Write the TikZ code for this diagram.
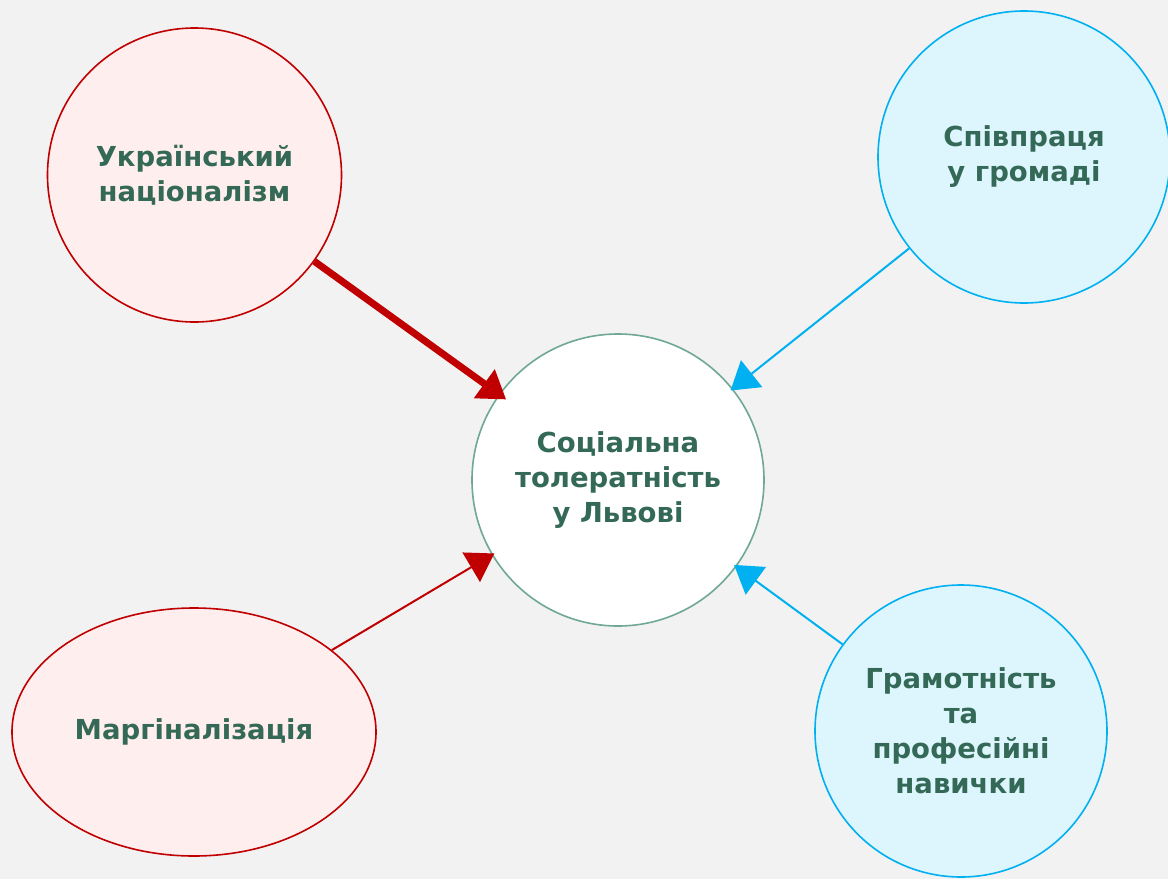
\documentclass[tikz,border=0pt]{standalone}
\usepackage{fontspec}
\setmainfont{DejaVu Sans}
\usetikzlibrary{arrows.meta,shapes.geometric}
\definecolor{bg}{HTML}{F2F2F2}
\definecolor{txt}{HTML}{336956}
\definecolor{redc}{HTML}{C00000}
\definecolor{redfill}{HTML}{FFEEEE}
\definecolor{bluec}{HTML}{00B0F0}
\definecolor{bluefill}{HTML}{DDF5FC}
\definecolor{greenc}{HTML}{6FA894}
\tikzset{
  lbl/.style={font=\fontsize{27.5}{35}\selectfont\bfseries, text=txt, align=center, inner sep=0pt},
  redcirc/.style={circle, draw=redc, fill=redfill, line width=1.6pt, minimum size=294pt, lbl},
  bluecirc/.style={circle, draw=bluec, fill=bluefill, line width=1.6pt, minimum size=292pt, lbl},
  redell/.style={ellipse, draw=redc, fill=redfill, line width=1.6pt, minimum width=364pt, minimum height=248pt, lbl},
  centre/.style={circle, draw=greenc, fill=white, line width=1.6pt, minimum size=292pt, lbl},
  tip/.style={-{Triangle[length=27pt,width=34pt]}},
}
\begin{document}
\begin{tikzpicture}[x=1pt,y=-1pt]
\fill[bg] (0,0) rectangle (1168,879);
\useasboundingbox (0,0) rectangle (1168,879);
\node[centre] (c) at (618,480) {Соціальна\\толератність\\у Львові};
\node[redcirc] (nat) at (194.5,175) {Український\\націоналізм};
\node[bluecirc] (coop) at (1024,157) {Співпраця\\у громаді};
\node[redell] (marg) at (194,732) {Маргіналізація};
\node[bluecirc] (lit) at (961,731) {Грамотність\\та\\професійні\\навички};
\draw[tip, redc, line width=7pt, shorten >=-9pt] (nat) -- (c);
\draw[tip, bluec, line width=2pt, shorten >=-3pt] (coop) -- (c);
\draw[tip, redc, line width=2pt, shorten >=-3pt] (marg) -- (c);
\draw[tip, bluec, line width=2pt, shorten >=-3pt] (lit) -- (c);
\end{tikzpicture}
\end{document}
